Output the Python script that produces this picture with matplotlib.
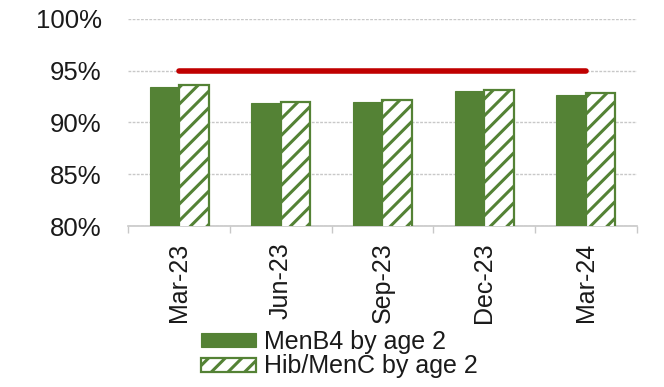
import matplotlib
matplotlib.use("Agg")
import matplotlib.pyplot as plt
import numpy as np
from matplotlib.ticker import FuncFormatter, FixedLocator

plt.rcParams['font.family'] = ['Liberation Sans', 'DejaVu Sans']
plt.rcParams['hatch.linewidth'] = 2.2

quarters = ["Mar-23", "Jun-23", "Sep-23", "Dec-23", "Mar-24"]
menb4 = [93.4, 91.9, 92.0, 93.0, 92.7]
hib_menc = [93.6, 92.0, 92.2, 93.1, 92.8]
target = 95
series_names = ["MenB4 by age 2", "Hib/MenC by age 2"]

green = "#548235"
red = "#C00000"
grid_grey = "#C8C8C8"
text_col = "#1a1a1a"

fig = plt.figure(figsize=(6.64, 3.87), dpi=100)
ax = fig.add_axes([0.193, 0.416, 0.766, 0.535])

x = np.arange(len(quarters))
w = 0.29
ax.bar(x - w / 2, menb4, w, color=green, edgecolor=green, linewidth=0.8,
       label=series_names[0], zorder=3)
ax.bar(x + w / 2, hib_menc, w, color="white", edgecolor=green, hatch="//",
       linewidth=1.6, label=series_names[1], zorder=3)
ax.plot([x[0], x[-1]], [target, target], color=red, lw=4.0,
        solid_capstyle="round", zorder=4)

ax.set_ylim(80, 100)
ax.set_xlim(-0.5, len(quarters) - 0.5)
ax.set_yticks([80, 85, 90, 95, 100])
ax.yaxis.set_major_formatter(FuncFormatter(lambda v, p: f"{v:.0f}%"))
ax.tick_params(axis="y", length=0, pad=19, labelsize=18.5, labelcolor=text_col)
ax.grid(axis="y", color=grid_grey, lw=1.0, ls=(0, (2, 1)), zorder=0)

ax.set_xticks(x)
ax.set_xticklabels(quarters, rotation=90, fontsize=18, color=text_col)
ax.tick_params(axis="x", which="major", length=0, pad=12)
ax.xaxis.set_minor_locator(FixedLocator(np.arange(-0.5, len(quarters), 1.0)))
ax.tick_params(axis="x", which="minor", length=5, color=grid_grey, width=1)

for s in ["top", "right", "left"]:
    ax.spines[s].set_visible(False)
ax.spines["bottom"].set_color(grid_grey)
ax.spines["bottom"].set_linewidth(1.2)

leg = fig.legend(loc="upper left", bbox_to_anchor=(0.303, 0.148), frameon=False,
                 fontsize=18, handlelength=2.2, handleheight=0.48,
                 handletextpad=0.3, labelspacing=0.03, borderaxespad=0,
                 borderpad=0)
for t in leg.get_texts():
    t.set_color(text_col)

fig.savefig("out.png", dpi=100, facecolor="white")
